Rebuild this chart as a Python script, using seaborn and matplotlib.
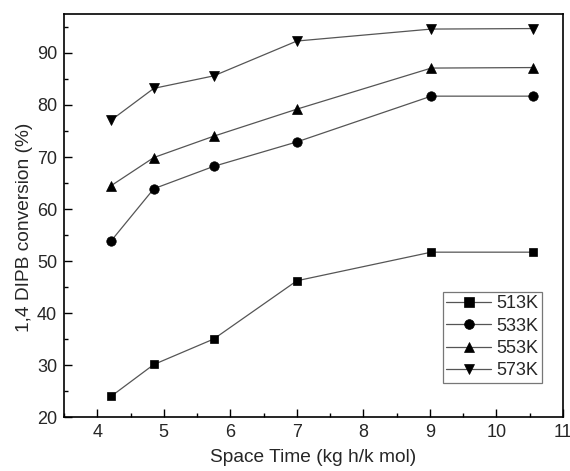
import matplotlib
matplotlib.use("Agg")
import matplotlib.pyplot as plt
import seaborn as sns
from matplotlib.ticker import MultipleLocator

# data
space_time = [4.21, 4.85, 5.75, 7.0, 9.02, 10.55]
conv_513 = [24.0, 30.1, 35.0, 46.2, 51.7, 51.7]
conv_533 = [53.9, 63.9, 68.2, 72.9, 81.7, 81.7]
conv_553 = [64.5, 69.9, 74.0, 79.2, 87.1, 87.2]
conv_573 = [77.1, 83.2, 85.6, 92.3, 94.6, 94.7]
labels = ["513K", "533K", "553K", "573K"]
markers = ["s", "o", "^", "v"]
msizes = [6.0, 6.8, 7.5, 7.5]

sns.set_style("ticks")
plt.rcParams['font.family'] = ['Liberation Sans', 'DejaVu Sans']

fig = plt.figure(figsize=(5.7, 4.71), dpi=100)
ax = fig.add_axes([0.1123, 0.1146, 0.8754, 0.8557])

for vals, lab, m, ms in zip([conv_513, conv_533, conv_553, conv_573], labels, markers, msizes):
    sns.lineplot(x=space_time, y=vals, ax=ax, marker=m, color="#555555",
                 linewidth=0.9, markersize=ms,
                 markerfacecolor="black", markeredgecolor="black",
                 markeredgewidth=0.5, label=lab)

ax.set_xlim(3.5, 11)
ax.set_ylim(20, 97.5)
ax.xaxis.set_major_locator(MultipleLocator(1))
ax.xaxis.set_minor_locator(MultipleLocator(0.5))
ax.yaxis.set_major_locator(MultipleLocator(10))
ax.yaxis.set_minor_locator(MultipleLocator(5))
ax.tick_params(which="both", direction="in", top=False, right=False,
               labelsize=13, width=1.0, color="black", pad=5)
ax.tick_params(which="major", length=6)
ax.tick_params(which="minor", length=3)
for s in ax.spines.values():
    s.set_linewidth(1.2)
    s.set_color("black")

ax.set_xlabel("Space Time (kg h/k mol)", fontsize=13.8, labelpad=6)
ax.set_ylabel("1,4 DIPB conversion (%)", fontsize=13.8)
ax.yaxis.set_label_coords(-0.063, 0.47)

leg = ax.legend(loc="lower right", bbox_to_anchor=(0.9585, 0.0844),
                borderaxespad=0, fontsize=13, fancybox=False, frameon=True,
                edgecolor="#777777", framealpha=1, handlelength=2.5,
                handletextpad=0.3, labelspacing=0.3, borderpad=0.2)
leg.get_frame().set_linewidth(0.9)
for h in leg.legend_handles:
    h.set_markersize(7)

fig.savefig("out.png", dpi=100)
